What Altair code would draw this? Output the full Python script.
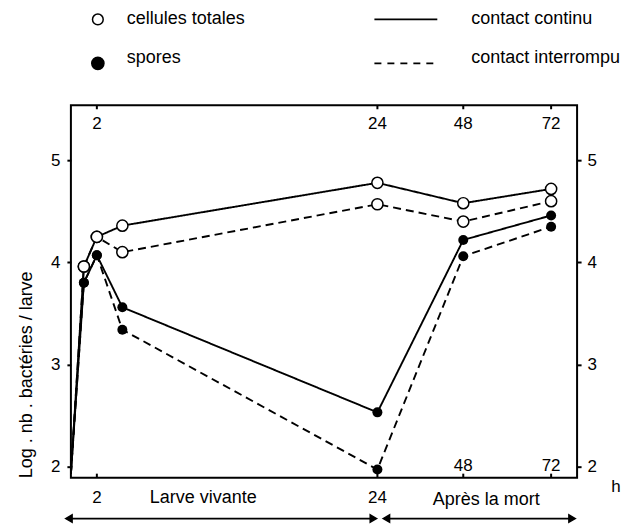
import altair as alt
import pandas as pd

# ---- data ----
hours = [0, 1, 2, 4, 24, 48, 72]
cellules_continu = [1.93, 3.96, 4.25, 4.36, 4.78, 4.58, 4.72]
cellules_interrompu = [1.93, 3.96, 4.25, 4.10, 4.57, 4.40, 4.60]
spores_continu = [1.93, 3.80, 4.07, 3.56, 2.53, 4.22, 4.46]
spores_interrompu = [1.93, 3.80, 4.07, 3.34, 1.97, 4.06, 4.35]

y_ticks = [2, 3, 4, 5]
top_ticks = [2, 24, 48, 72]
bottom_out_ticks = [2, 24]
bottom_in_ticks = [48, 72]

FONT = "Liberation Sans"

rows = []
for serie, contact, vals in [
    ("cellules", "continu", cellules_continu),
    ("cellules", "interrompu", cellules_interrompu),
    ("spores", "continu", spores_continu),
    ("spores", "interrompu", spores_interrompu),
]:
    for h, v in zip(hours, vals):
        rows.append({"h": h, "v": v, "serie": serie, "contact": contact,
                     "key": serie + "_" + contact})
df = pd.DataFrame(rows)

W, H = 507, 373
# piecewise time axis (0-24 h expanded, 24-72 h compressed)
xscale = alt.Scale(domain=[0, 2, 24, 48, 72, 79.3],
                   range=[0, 26, 307, 393, 481, W], zero=False, nice=False)
yscale = alt.Scale(domain=[1.89, 5.54], zero=False, nice=False)

X = alt.X("h:Q", scale=xscale, axis=None)

dash = alt.StrokeDash("contact:N",
                      scale=alt.Scale(domain=["continu", "interrompu"],
                                      range=[[1, 0], [8, 5]]),
                      legend=None)

left_axis = alt.Axis(orient="left", values=y_ticks, domain=False, grid=False,
                     tickSize=4, tickWidth=2, tickColor="black",
                     labelFontSize=17, labelFont=FONT, labelColor="black",
                     labelPadding=7, title="Log . nb . bactéries / larve",
                     titleFont=FONT, titleFontSize=18, titleFontWeight="normal",
                     titleColor="black", titlePadding=15, titleAnchor="start")
right_axis = alt.Axis(orient="right", values=y_ticks, domain=False, grid=False,
                      tickSize=4, tickWidth=2, tickColor="black",
                      labelFontSize=17, labelFont=FONT, labelColor="black",
                      labelPadding=6, title=None)

base = alt.Chart(df)

lines = base.mark_line(color="black", strokeWidth=1.9).encode(
    x=X,
    y=alt.Y("v:Q", scale=yscale, axis=left_axis),
    strokeDash=dash,
    detail="key:N",
    order="h:Q",
)

right = base.mark_point(opacity=0).encode(
    x=X, y=alt.Y("v:Q", scale=yscale, axis=right_axis)
)

open_pts = base.transform_filter(
    (alt.datum.h > 0) & (alt.datum.serie == "cellules")
).mark_point(shape="circle", filled=True, fill="white", stroke="black",
             strokeWidth=1.5, size=125, opacity=1).encode(
    x=X, y=alt.Y("v:Q", scale=yscale, axis=None)
)

filled_pts = base.transform_filter(
    (alt.datum.h > 0) & (alt.datum.serie == "spores")
).mark_circle(color="black", size=100, opacity=1).encode(
    x=X, y=alt.Y("v:Q", scale=yscale, axis=None)
)

# tick notches on top and bottom frame
top_df = pd.DataFrame({"h": top_ticks, "label": [str(t) for t in top_ticks]})
top_notch = alt.Chart(top_df).mark_rule(color="black", strokeWidth=2).encode(
    x=X, y=alt.value(0), y2=alt.value(4))
bot_notch = alt.Chart(top_df).mark_rule(color="black", strokeWidth=2).encode(
    x=X, y=alt.value(H - 4), y2=alt.value(H))
top_labels = alt.Chart(top_df).mark_text(font=FONT, fontSize=17, baseline="middle",
                                         color="black").encode(
    x=X, y=alt.value(19), text="label:N")

bo_df = pd.DataFrame({"h": bottom_out_ticks, "label": [str(t) for t in bottom_out_ticks]})
bo_labels = alt.Chart(bo_df).mark_text(font=FONT, fontSize=17, baseline="middle",
                                       color="black").encode(
    x=X, y=alt.value(393), text="label:N")
bi_df = pd.DataFrame({"h": bottom_in_ticks, "label": [str(t) for t in bottom_in_ticks]})
bi_labels = alt.Chart(bi_df).mark_text(font=FONT, fontSize=17, baseline="middle",
                                       color="black").encode(
    x=X, y=alt.value(361), text="label:N")


def txt(s, x, y, align="left", size=17):
    return alt.Chart(pd.DataFrame({"t": [s]})).mark_text(
        font=FONT, fontSize=size, align=align, baseline="middle", color="black"
    ).encode(x=alt.value(x), y=alt.value(y), text="t:N")


def hrule(x1, x2, y, dashed=False, w=1.8):
    kw = {"strokeDash": [7, 6]} if dashed else {}
    return alt.Chart(pd.DataFrame({"a": [0]})).mark_rule(
        color="black", strokeWidth=w, **kw
    ).encode(x=alt.value(x1), x2=alt.value(x2), y=alt.value(y))


def sym(shape, x, y, size, fill="black"):
    return alt.Chart(pd.DataFrame({"a": [0]})).mark_point(
        shape=shape, filled=True, fill=fill, stroke="black", strokeWidth=1.5,
        size=size, opacity=1
    ).encode(x=alt.value(x), y=alt.value(y))


annotations = [
    txt("h", 546, 382, align="center"),
    txt("Larve vivante", 79, 393, size=18),
    txt("Après la mort", 416, 395, align="center", size=18),
    hrule(-4, 303, 414),
    sym("triangle-left", -2, 414, 55),
    sym("triangle-right", 303, 414, 55),
    hrule(314, 503, 414),
    sym("triangle-left", 316, 414, 55),
    sym("triangle-right", 502, 414, 55),
    # legend
    sym("circle", 27, -86, 115, fill="white"),
    txt("cellules totales", 56, -86, size=18),
    sym("circle", 27, -42, 150),
    txt("spores", 56, -47, size=18),
    hrule(304, 367, -86),
    txt("contact continu", 401, -86, size=18),
    hrule(304, 367, -42, dashed=True),
    txt("contact interrompu", 401, -47, size=18),
]

chart = alt.layer(
    lines, right, open_pts, filled_pts, top_notch, bot_notch,
    top_labels, bo_labels, bi_labels, *annotations
).resolve_axis(y="independent").properties(
    width=W, height=H,
    padding={"left": 63, "top": 97, "right": 50, "bottom": 47},
    autosize=alt.AutoSizeParams(type="none"),
).configure_view(stroke="black", strokeWidth=2)

chart.save("out.html", embed_options={"renderer": "svg", "actions": False})
